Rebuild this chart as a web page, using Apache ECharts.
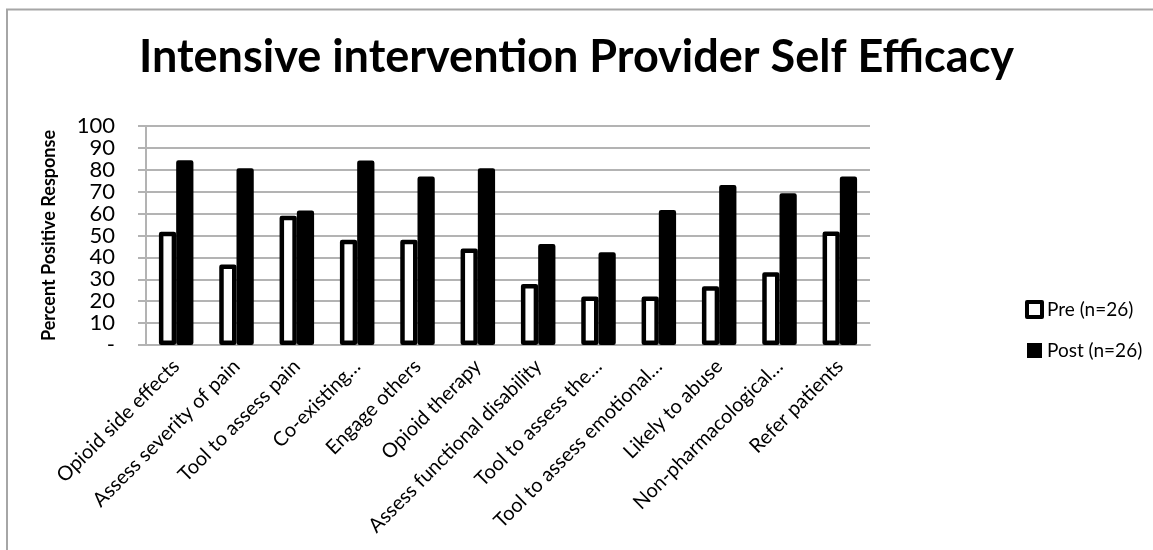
<!DOCTYPE html>
<html>
<head>
<meta charset="utf-8">
<title>Intensive intervention Provider Self Efficacy</title>
<script src="https://cdn.jsdelivr.net/npm/echarts@6/dist/echarts.min.js"></script>
<style>
  html, body { margin: 0; padding: 0; background: #ffffff; }
  #chart { width: 1153px; height: 550px; }
</style>
</head>
<body>
<div id="chart"></div>
<script>
// Survey items (x-axis categories)
const categories = [
  'Opioid side effects',
  'Assess severity of pain',
  'Tool to assess pain',
  'Co-existing…',
  'Engage others',
  'Opioid therapy',
  'Assess functional disability',
  'Tool to assess the…',
  'Tool to assess emotional…',
  'Likely to abuse',
  'Non-pharmacological…',
  'Refer patients'
];

// Percent positive response before and after the intervention
const preValues  = [51.7, 36.8, 59.0, 48.1, 48.1, 44.1, 27.8, 22.2, 22.2, 26.8, 33.2, 51.8];
const postValues = [84.4, 80.7, 61.4, 84.3, 76.9, 80.7, 46.1, 42.4, 61.6, 73.1, 69.3, 76.9];

const seriesNames = ['Pre (n=26)', 'Post (n=26)'];
const yTicks = { min: 0, max: 100, interval: 10 };

const FONT = 'Lato, "Open Sans", sans-serif';
const GRID_GRAY = '#b3b3b3';

const chart = echarts.init(document.getElementById('chart'), null, { renderer: 'canvas' });

chart.setOption({
  backgroundColor: '#ffffff',
  animation: false,
  graphic: [{
    type: 'rect',
    shape: { x: 7, y: 9.5, width: 1200, height: 600 },
    style: { fill: 'none', stroke: '#a6a6a6', lineWidth: 2 },
    silent: true,
    z: -10
  }],
  title: {
    text: 'Intensive intervention Provider Self Efficacy',
    left: 'center',
    top: 30,
    textStyle: { fontFamily: FONT, fontWeight: 'bold', fontSize: 45, color: '#000000' }
  },
  legend: {
    orient: 'vertical',
    left: 1020,
    top: 295,
    itemGap: 22,
    itemWidth: 15,
    itemHeight: 15,
    textStyle: { fontFamily: FONT, fontSize: 19, color: '#000000' },
    data: [
      { name: seriesNames[0], icon: 'rect',
        itemStyle: { color: '#ffffff', borderColor: '#000000', borderWidth: 4 } },
      { name: seriesNames[1], icon: 'rect',
        itemStyle: { color: '#000000', borderColor: '#000000', borderWidth: 0 } }
    ]
  },
  grid: { left: 146, right: 283, top: 126, bottom: 205 },
  xAxis: {
    type: 'category',
    data: categories,
    axisLine: { show: true, lineStyle: { color: GRID_GRAY, width: 2 } },
    axisTick: { show: false },
    axisLabel: {
      interval: 0,
      rotate: 45,
      margin: 18,
      fontFamily: FONT,
      fontSize: 20,
      color: '#000000'
    }
  },
  yAxis: {
    type: 'value',
    min: yTicks.min,
    max: yTicks.max,
    interval: yTicks.interval,
    name: 'Percent Positive Response',
    nameLocation: 'middle',
    nameGap: 88,
    nameTextStyle: { fontFamily: FONT, fontWeight: 'bold', fontSize: 18, color: '#000000' },
    axisLine: { show: true, lineStyle: { color: GRID_GRAY, width: 2 } },
    axisTick: { show: true, length: 8, lineStyle: { color: GRID_GRAY, width: 2 } },
    splitLine: { show: true, lineStyle: { color: GRID_GRAY, width: 2 } },
    axisLabel: {
      margin: 31,
      fontFamily: FONT,
      fontSize: 22,
      color: '#000000',
      formatter: function (v) { return v === 0 ? '-' : String(v); }
    }
  },
  series: [
    {
      name: seriesNames[0],
      type: 'bar',
      data: preValues,
      barWidth: '28.6%',
      barGap: '0%',
      itemStyle: { color: '#ffffff', borderColor: '#000000', borderWidth: 4.5, borderJoin: 'round' }
    },
    {
      name: seriesNames[1],
      type: 'bar',
      data: postValues,
      barWidth: '28.6%',
      barGap: '0%',
      itemStyle: { color: '#000000', borderColor: '#000000', borderWidth: 4.5, borderJoin: 'round' }
    }
  ]
});
</script>
</body>
</html>
